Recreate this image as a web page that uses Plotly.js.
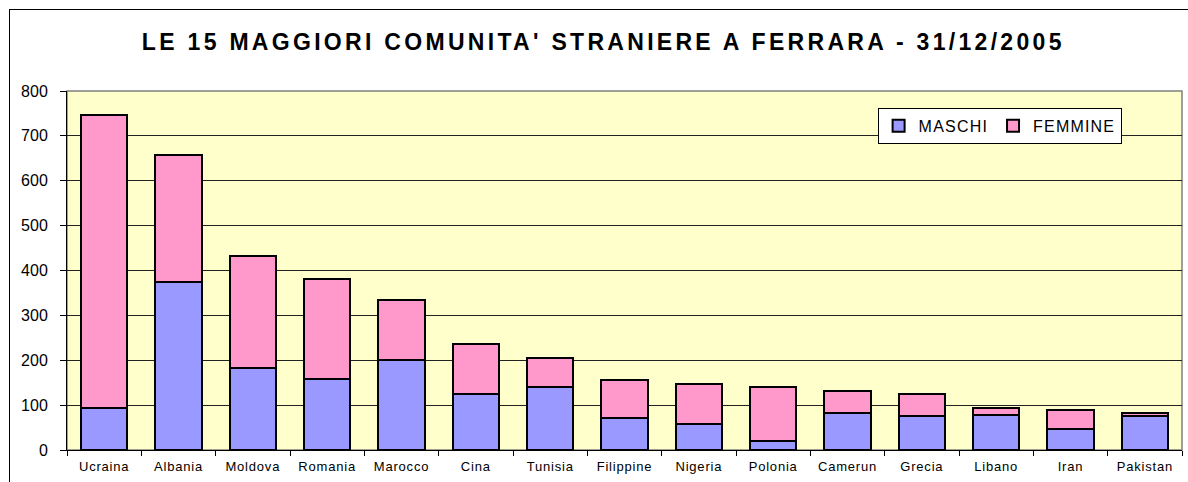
<!DOCTYPE html>
<html>
<head>
<meta charset="utf-8">
<script src="https://cdn.plot.ly/plotly-3.0.1.min.js"></script>
<style>
  html, body { margin: 0; padding: 0; background: #fff; overflow: hidden; }
  #chart { position: absolute; left: 0; top: 0; width: 1188px; height: 482px; }
  #frame { position: absolute; left: 9px; top: 9px; width: 1300px; height: 600px;
           border: 1.5px solid #000; pointer-events: none; }
  .gtitle { letter-spacing: 3.3px; }
  .legendtext { letter-spacing: 1.2px; }
  .xtick text { letter-spacing: 0.8px; }
</style>
</head>
<body>
<div id="chart"></div>
<div id="frame"></div>
<script>
// Top 15 foreign communities in Ferrara, 31/12/2005
const paesi = ['Ucraina', 'Albania', 'Moldova', 'Romania', 'Marocco', 'Cina', 'Tunisia',
               'Filippine', 'Nigeria', 'Polonia', 'Camerun', 'Grecia', 'Libano', 'Iran', 'Pakistan'];
const maschi  = [93, 375, 182, 159, 201, 124, 140, 71, 59, 21, 83, 75, 78, 47, 75];
const femmine = [654, 283, 250, 223, 134, 112, 64, 85, 89, 119, 49, 49, 16, 43, 8];

const FONT = 'Liberation Sans, Arial, sans-serif';

const traces = [
  { x: paesi, y: maschi, type: 'bar', name: 'MASCHI',
    marker: { color: '#9999FF', line: { color: '#000', width: 2 } } },
  { x: paesi, y: femmine, type: 'bar', name: 'FEMMINE',
    marker: { color: '#FF99CC', line: { color: '#000', width: 2 } } }
];

const layout = {
  width: 1188, height: 482,
  margin: { l: 67, r: 6, t: 91, b: 32 },
  paper_bgcolor: '#fff',
  plot_bgcolor: '#FFFFCC',
  barmode: 'stack',
  bargap: 0.38,
  showlegend: true,
  font: { family: FONT, color: '#000' },
  title: {
    text: "<b>LE 15 MAGGIORI COMUNITA' STRANIERE A FERRARA - 31/12/2005</b>",
    font: { family: FONT, size: 23, color: '#000' },
    x: 0.481, xanchor: 'center', xref: 'paper',
    y: 0.913, yanchor: 'middle', yref: 'container'
  },
  xaxis: {
    type: 'category',
    showline: true, linecolor: '#000', linewidth: 1,
    ticks: 'outside', tickson: 'boundaries', ticklen: 5, tickcolor: '#000',
    ticklabelstandoff: 4,
    tickfont: { family: FONT, size: 13, color: '#000' },
    showgrid: false, fixedrange: true
  },
  yaxis: {
    range: [0, 800], dtick: 100,
    showline: true, linecolor: '#000', linewidth: 1,
    ticks: 'outside', ticklen: 6, tickcolor: '#000',
    ticklabelstandoff: 9,
    tickfont: { family: FONT, size: 16, color: '#000' },
    showgrid: true, gridcolor: '#222', gridwidth: 1,
    zeroline: false, fixedrange: true
  },
  legend: {
    orientation: 'h', traceorder: 'normal',
    x: 0.727, xanchor: 'left', y: 0.953, yanchor: 'top',
    bgcolor: '#fff', bordercolor: '#000', borderwidth: 1,
    font: { family: FONT, size: 16, color: '#000' },
    itemwidth: 30
  },
  shapes: [
    { type: 'rect', xref: 'paper', yref: 'paper', x0: 0, x1: 1, y0: 0, y1: 1,
      line: { color: '#808080', width: 1.5 }, layer: 'below' }
  ]
};

Plotly.newPlot('chart', traces, layout, { staticPlot: true, displayModeBar: false });
</script>
</body>
</html>
